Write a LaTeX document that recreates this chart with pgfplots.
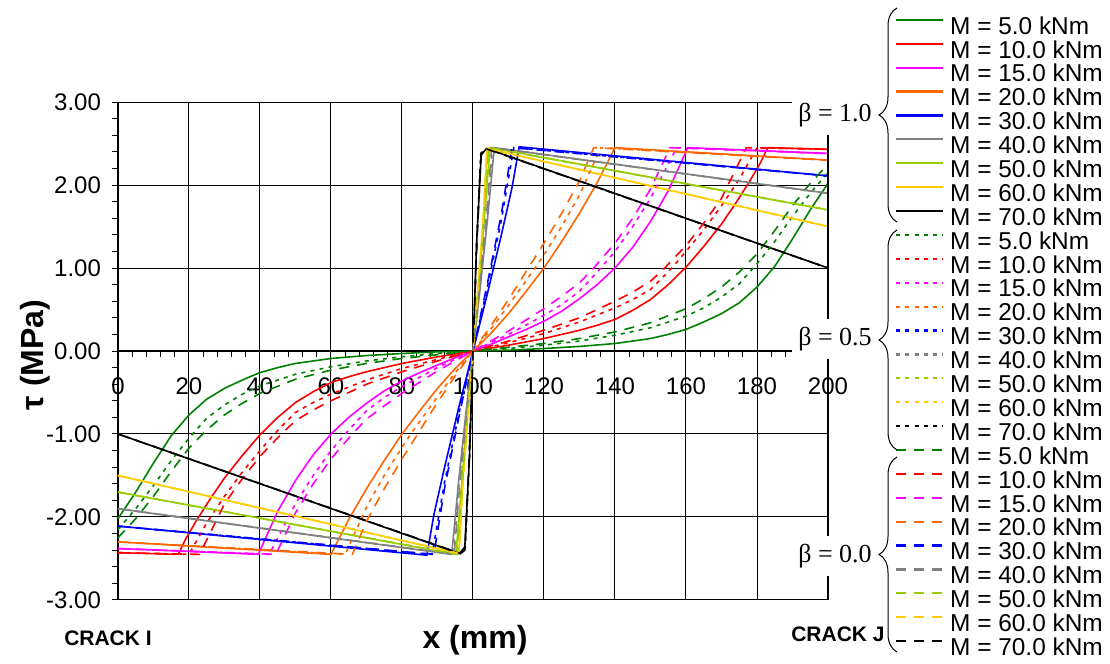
\documentclass[border=0pt]{standalone}
\usepackage{pgfplots}
\pgfplotsset{compat=1.18}
\usepackage{fontspec}
\setmainfont{Liberation Sans}
\newfontfamily\serif{Liberation Serif}
\usetikzlibrary{decorations.pathreplacing}

\definecolor{cG}{RGB}{0,128,0}
\definecolor{cR}{RGB}{255,0,0}
\definecolor{cM}{RGB}{255,0,255}
\definecolor{cO}{RGB}{255,102,0}
\definecolor{cB}{RGB}{0,0,255}
\definecolor{cGr}{RGB}{128,128,128}
\definecolor{cGY}{RGB}{153,204,0}
\definecolor{cY}{RGB}{255,204,0}
\definecolor{cK}{RGB}{0,0,0}

\tikzset{
  sol/.style={line width=0.8pt, solid},
  dot/.style={line width=0.8pt, dash pattern=on 2pt off 2.6pt},
  das/.style={line width=0.8pt, dash pattern=on 5pt off 4pt},
}

\begin{document}
\begin{tikzpicture}
\path[use as bounding box] (-59pt,-32pt) rectangle (496pt,300pt);
\begin{axis}[
  at={(0,0)}, anchor=south west,
  width=355pt, height=249pt, scale only axis,
  xmin=0, xmax=200, ymin=-3, ymax=3,
  axis x line=middle, axis y line=left,
  axis line style={-, line width=0.9pt, black},
  hide obscured x ticks=false, hide obscured y ticks=false,
  xtick={0,20,...,200}, minor x tick num=4,
  ytick={-3,-2,...,3}, minor y tick num=4,
  tick align=outside,
  major tick length=3pt, minor tick length=3pt,
  tick style={black, line width=0.5pt},
  grid=major, major grid style={black, line width=0.5pt},
  /pgf/number format/assume math mode=true,
  ticklabel style={font=\fontsize{12}{14}\selectfont},
  xticklabel style={yshift=-7pt},
  yticklabel style={xshift=-2pt, /pgf/number format/fixed, /pgf/number format/fixed zerofill, /pgf/number format/precision=2},
  clip=false,
  legend style={at={(1.0944,1.1697)}, anchor=north west, draw=none, fill=none,
    inner sep=0pt, outer sep=0pt,
    font=\fontsize{12.2}{13}\selectfont,
    nodes={inner sep=0pt, text height=8.3pt, text depth=2.5pt, anchor=west},
    row sep=1.15pt, column sep=3pt},
  legend cell align=left,
  legend image code/.code={\draw[#1, line width=1.1pt] (0pt,4.25pt) -- (23.5pt,4.25pt);},
]
% ---------------- beta = 1.0 (solid)
\addplot[cG, sol] coordinates {(0,-2.02) (5,-1.70) (10,-1.35) (15,-1.02) (20,-0.77) (25,-0.58) (30,-0.45) (35,-0.35) (40,-0.26) (45,-0.20) (50,-0.15) (60,-0.09) (70,-0.055) (80,-0.03) (90,-0.01) (100,0) (110,0.01) (120,0.03) (130,0.055) (140,0.09) (150,0.15) (155,0.20) (160,0.26) (165,0.35) (170,0.45) (175,0.58) (180,0.77) (185,1.02) (190,1.35) (195,1.70) (200,2.02)};
\addlegendentry{M = 5.0 kNm}
\addplot[cR, sol] coordinates {(0,-2.43) (17,-2.45) (19,-2.27) (22,-2.05) (26,-1.78) (30,-1.53) (35,-1.26) (40,-1.01) (45,-0.80) (50,-0.62) (55,-0.49) (60,-0.38) (65,-0.31) (70,-0.25) (75,-0.20) (80,-0.15) (85,-0.11) (90,-0.07) (95,-0.035) (100,0) (105,0.035) (110,0.07) (115,0.11) (120,0.15) (125,0.20) (130,0.25) (135,0.31) (140,0.38) (145,0.49) (150,0.62) (155,0.80) (160,1.01) (165,1.26) (170,1.53) (174,1.78) (178,2.05) (181,2.27) (183,2.45) (200,2.43)};
\addlegendentry{M = 10.0 kNm}
\addplot[cM, sol] coordinates {(0,-2.38) (39.5,-2.45) (45,-1.93) (50,-1.56) (55,-1.25) (60,-1.00) (65,-0.80) (70,-0.63) (75,-0.48) (80,-0.36) (85,-0.26) (90,-0.17) (95,-0.08) (100,0) (105,0.08) (110,0.17) (115,0.26) (120,0.36) (125,0.48) (130,0.63) (135,0.80) (140,1.00) (145,1.25) (150,1.56) (155,1.93) (160.5,2.45) (200,2.38)};
\addlegendentry{M = 15.0 kNm}
\addplot[cO, sol] coordinates {(0,-2.30) (60,-2.45) (65,-2.03) (70,-1.66) (75,-1.32) (80,-1.00) (85,-0.72) (90,-0.45) (95,-0.21) (100,0) (105,0.21) (110,0.45) (115,0.72) (120,1.00) (125,1.32) (130,1.66) (135,2.03) (140,2.45) (200,2.30)};
\addlegendentry{M = 20.0 kNm}
\addplot[cB, sol] coordinates {(0,-2.11) (87,-2.46) (89,-1.97) (92,-1.40) (96,-0.68) (100,0) (104,0.68) (108,1.40) (111,1.97) (113,2.46) (200,2.11)};
\addlegendentry{M = 30.0 kNm}
\addplot[cGr, sol] coordinates {(0,-1.90) (94,-2.45) (96,-1.55) (98,-0.75) (100,0) (102,0.75) (104,1.55) (106,2.45) (200,1.90)};
\addlegendentry{M = 40.0 kNm}
\addplot[cGY, sol] coordinates {(0,-1.70) (95.2,-2.45) (97,-1.50) (98.5,-0.70) (100,0) (101.5,0.70) (103,1.50) (104.8,2.45) (200,1.70)};
\addlegendentry{M = 50.0 kNm}
\addplot[cY, sol] coordinates {(0,-1.50) (96,-2.44) (97,-1.65) (98.5,-0.80) (100,0) (101.5,0.80) (103,1.65) (104,2.44) (200,1.50)};
\addlegendentry{M = 60.0 kNm}
\addplot[cK, sol] coordinates {(0,-1.00) (96.2,-2.44) (97.7,-2.36) (99,-1.28) (100,0) (101,1.28) (102.3,2.36) (103.8,2.44) (200,1.00)};
\addlegendentry{M = 70.0 kNm}
% ---------------- beta = 0.5 (dotted)
\addplot[cG, dot] coordinates {(0,-2.15) (5,-1.90) (10,-1.62) (15,-1.32) (20,-1.05) (25,-0.81) (30,-0.65) (35,-0.52) (40,-0.42) (50,-0.28) (60,-0.19) (70,-0.12) (80,-0.07) (90,-0.03) (100,0) (110,0.03) (120,0.07) (130,0.12) (140,0.19) (150,0.28) (160,0.42) (165,0.52) (170,0.65) (175,0.81) (180,1.05) (185,1.32) (190,1.62) (195,1.90) (200,2.15)};
\addlegendentry{M = 5.0 kNm}
\addplot[cR, dot] coordinates {(0,-2.43) (20,-2.45) (25,-2.07) (30,-1.75) (35,-1.46) (40,-1.20) (44,-1.00) (50,-0.74) (55,-0.62) (60,-0.52) (70,-0.35) (80,-0.21) (90,-0.10) (100,0) (110,0.10) (120,0.21) (130,0.35) (140,0.52) (145,0.62) (150,0.74) (156,1.00) (160,1.20) (165,1.46) (170,1.75) (175,2.07) (180,2.45) (200,2.43)};
\addlegendentry{M = 10.0 kNm}
\addplot[cM, dot] coordinates {(0,-2.38) (42.6,-2.45) (50,-1.84) (55,-1.50) (60,-1.20) (64,-1.00) (70,-0.72) (75,-0.56) (80,-0.43) (90,-0.20) (100,0) (110,0.20) (120,0.43) (125,0.56) (130,0.72) (136,1.00) (140,1.20) (145,1.50) (150,1.84) (157.4,2.45) (200,2.38)};
\addlegendentry{M = 15.0 kNm}
\addplot[cO, dot] coordinates {(0,-2.30) (64,-2.45) (70,-1.88) (75,-1.50) (80,-1.16) (82.5,-1.00) (90,-0.55) (95,-0.26) (100,0) (105,0.26) (110,0.55) (117.5,1.00) (120,1.16) (125,1.50) (130,1.88) (136,2.45) (200,2.30)};
\addlegendentry{M = 20.0 kNm}
\addplot[cB, dot] coordinates {(0,-2.11) (88.5,-2.45) (92,-1.58) (96,-0.76) (100,0) (104,0.76) (108,1.58) (111.5,2.45) (200,2.11)};
\addlegendentry{M = 30.0 kNm}
\addplot[cGr, dot] coordinates {(0,-1.90) (94.5,-2.45) (96,-1.65) (98,-0.80) (100,0) (102,0.80) (104,1.65) (105.5,2.45) (200,1.90)};
\addlegendentry{M = 40.0 kNm}
\addplot[cGY, dot] coordinates {(0,-1.70) (95.5,-2.45) (97,-1.55) (98.5,-0.75) (100,0) (101.5,0.75) (103,1.55) (104.5,2.45) (200,1.70)};
\addlegendentry{M = 50.0 kNm}
\addplot[cY, dot] coordinates {(0,-1.50) (96,-2.44) (97,-1.65) (98.5,-0.80) (100,0) (101.5,0.80) (103,1.65) (104,2.44) (200,1.50)};
\addlegendentry{M = 60.0 kNm}
\addplot[cK, dot] coordinates {(0,-1.00) (96.4,-2.44) (97.8,-2.38) (99,-1.30) (100,0) (101,1.30) (102.2,2.38) (103.6,2.44) (200,1.00)};
\addlegendentry{M = 70.0 kNm}
% ---------------- beta = 0.0 (dashed)
\addplot[cG, das] coordinates {(0,-2.25) (5,-2.02) (10,-1.75) (15,-1.45) (20,-1.17) (25,-0.95) (30,-0.77) (35,-0.63) (40,-0.51) (50,-0.34) (60,-0.23) (70,-0.15) (80,-0.09) (90,-0.045) (100,0) (110,0.045) (120,0.09) (130,0.15) (140,0.23) (150,0.34) (160,0.51) (165,0.63) (170,0.77) (175,0.95) (180,1.17) (185,1.45) (190,1.75) (195,2.02) (200,2.25)};
\addlegendentry{M = 5.0 kNm}
\addplot[cR, das] coordinates {(0,-2.43) (23,-2.45) (30,-1.84) (35,-1.54) (40,-1.27) (46,-1.00) (50,-0.84) (55,-0.71) (60,-0.60) (70,-0.40) (80,-0.25) (90,-0.12) (100,0) (110,0.12) (120,0.25) (130,0.40) (140,0.60) (145,0.71) (150,0.84) (154,1.00) (160,1.27) (165,1.54) (170,1.84) (177,2.45) (200,2.43)};
\addlegendentry{M = 10.0 kNm}
\addplot[cM, das] coordinates {(0,-2.38) (44.5,-2.45) (50,-1.95) (55,-1.60) (60,-1.30) (66,-1.00) (70,-0.82) (75,-0.66) (80,-0.51) (90,-0.24) (100,0) (110,0.24) (120,0.51) (125,0.66) (130,0.82) (134,1.00) (140,1.30) (145,1.60) (150,1.95) (155.5,2.45) (200,2.38)};
\addlegendentry{M = 15.0 kNm}
\addplot[cO, das] coordinates {(0,-2.30) (66,-2.45) (70,-2.05) (75,-1.66) (80,-1.30) (84.4,-1.00) (90,-0.62) (95,-0.30) (100,0) (105,0.30) (110,0.62) (115.6,1.00) (120,1.30) (125,1.66) (130,2.05) (134,2.45) (200,2.30)};
\addlegendentry{M = 20.0 kNm}
\addplot[cB, das] coordinates {(0,-2.11) (89,-2.45) (92,-1.65) (96,-0.80) (100,0) (104,0.80) (108,1.65) (111,2.45) (200,2.11)};
\addlegendentry{M = 30.0 kNm}
\addplot[cGr, das] coordinates {(0,-1.90) (94.7,-2.45) (96,-1.75) (98,-0.85) (100,0) (102,0.85) (104,1.75) (105.3,2.45) (200,1.90)};
\addlegendentry{M = 40.0 kNm}
\addplot[cGY, das] coordinates {(0,-1.70) (95.6,-2.45) (97,-1.60) (98.5,-0.75) (100,0) (101.5,0.75) (103,1.60) (104.4,2.45) (200,1.70)};
\addlegendentry{M = 50.0 kNm}
\addplot[cY, das] coordinates {(0,-1.50) (96.1,-2.44) (97,-1.70) (98.5,-0.80) (100,0) (101.5,0.80) (103,1.70) (103.9,2.44) (200,1.50)};
\addlegendentry{M = 60.0 kNm}
\addplot[cK, das] coordinates {(0,-1.00) (96.5,-2.44) (97.7,-2.40) (98.8,-1.40) (100,0) (101.2,1.40) (102.3,2.40) (103.5,2.44) (200,1.00)};
\addlegendentry{M = 70.0 kNm}
\draw[line width=1pt] (rel axis cs:1,0) -- (rel axis cs:1,1);
\end{axis}
% labels
\node[font=\bfseries\fontsize{16}{18}\selectfont] at (178.5pt,-20pt) {x (mm)};
\node[font=\bfseries\fontsize{16}{18}\selectfont, rotate=90] at (-41.5pt,122.5pt) {τ (MPa)};
\node[font=\bfseries\fontsize{10.5}{12}\selectfont] at (-5pt,-19pt) {CRACK I};
\node[font=\bfseries\fontsize{10.5}{12}\selectfont] at (360pt,-17pt) {CRACK J};
% beta labels
\node[fill=white, inner sep=0pt, minimum width=43pt, minimum height=20pt, font=\serif\fontsize{13}{14}\selectfont] at (358.5pt,242.5pt) {β = 1.0};
\node[fill=white, inner sep=0pt, minimum width=43pt, minimum height=20pt, font=\serif\fontsize{13}{14}\selectfont] at (358.5pt,130.5pt) {β = 0.5};
\node[fill=white, inner sep=0pt, minimum width=43pt, minimum height=20pt, font=\serif\fontsize{13}{14}\selectfont] at (358.5pt,22pt) {β = 0.0};
% braces
\draw[line width=0.5pt, decorate, decoration={brace, amplitude=9pt}] (389.5pt,189pt) -- (389.5pt,296pt);
\draw[line width=0.5pt, decorate, decoration={brace, amplitude=9pt}] (389.5pt,75pt) -- (389.5pt,185pt);
\draw[line width=0.5pt, decorate, decoration={brace, amplitude=9pt}] (389.5pt,-26pt) -- (389.5pt,71.5pt);
\end{tikzpicture}
\end{document}
